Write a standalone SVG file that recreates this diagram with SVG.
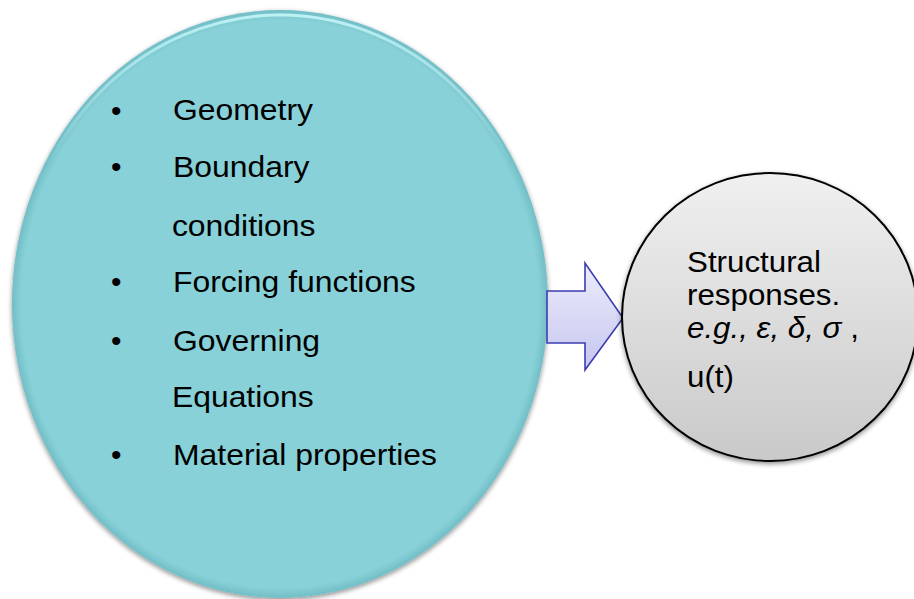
<svg xmlns="http://www.w3.org/2000/svg" width="914" height="599" viewBox="0 0 914 599">
<defs>
<linearGradient id="gGrey" x1="0" y1="0" x2="0" y2="1">
<stop offset="0" stop-color="#f0f0f0"/>
<stop offset="1" stop-color="#c9c9c9"/>
</linearGradient>
<linearGradient id="gArrow" x1="0" y1="0" x2="0" y2="1">
<stop offset="0" stop-color="#ececfb"/>
<stop offset="1" stop-color="#c6c6f0"/>
</linearGradient>
<radialGradient id="gTeal" cx="0.5" cy="0.5" r="0.5">
<stop offset="0.965" stop-color="#88d1d9"/>
<stop offset="1" stop-color="#72bec6"/>
</radialGradient>
<linearGradient id="gRim" x1="0" y1="0" x2="0" y2="1">
<stop offset="0" stop-color="#c4f6f9" stop-opacity="0.9"/>
<stop offset="0.25" stop-color="#c4f6f9" stop-opacity="0"/>
</linearGradient>
<filter id="shadow" x="-10%" y="-10%" width="120%" height="120%">
<feGaussianBlur in="SourceAlpha" stdDeviation="2.5"/>
<feOffset dx="0" dy="2" result="b"/>
<feComponentTransfer><feFuncA type="linear" slope="0.45"/></feComponentTransfer>
<feMerge><feMergeNode/><feMergeNode in="SourceGraphic"/></feMerge>
</filter>
<style>
.t{font-family:"Liberation Sans",Arial,sans-serif;font-size:29px;fill:#000}
.b{font-family:"Liberation Sans",Arial,sans-serif;font-size:30px;fill:#000}
.i{font-style:italic}
</style>
</defs>
<rect width="914" height="599" fill="#fff"/>
<g id="inputs">
<ellipse cx="280" cy="304" rx="268" ry="294" fill="url(#gTeal)" filter="url(#shadow)"/>
<ellipse cx="280" cy="306" rx="265" ry="291" fill="none" stroke="url(#gRim)" stroke-width="3"/>
<g>
<text class="b" x="111" y="121">•</text>
<text class="b" x="111" y="177">•</text>
<text class="b" x="111" y="292">•</text>
<text class="b" x="111" y="351">•</text>
<text class="b" x="111" y="465">•</text>
</g>
<g transform="translate(173,0) scale(1.1,1)">
<text class="t" x="0" y="120">Geometry</text>
<text class="t" x="0" y="177">Boundary</text>
<text class="t" x="-1" y="236">conditions</text>
<text class="t" x="0" y="292">Forcing functions</text>
<text class="t" x="0" y="351">Governing</text>
<text class="t" x="-1" y="407">Equations</text>
<text class="t" x="0" y="465">Material properties</text>
</g>
</g>
<g id="connectors">
<path d="M547,291 H585 V263 L623,318 L585,370 V343 H547 Z" fill="url(#gArrow)" stroke="#3b3db0" stroke-width="1.6" stroke-linejoin="miter"/>
</g>
<g id="outputs">
<ellipse cx="770" cy="317" rx="148" ry="144" fill="url(#gGrey)" stroke="#000" stroke-width="2" filter="url(#shadow)"/>
<g transform="translate(687,0) scale(1.08,1)">
<text class="t" x="0" y="272">Structural</text>
<text class="t" x="0" y="305">responses.</text>
<text class="t" x="0" y="338"><tspan class="i">e.g., ε, δ, σ</tspan> ,</text>
<text class="t" x="0" y="387">u(t)</text>
</g>
</g>
</svg>
